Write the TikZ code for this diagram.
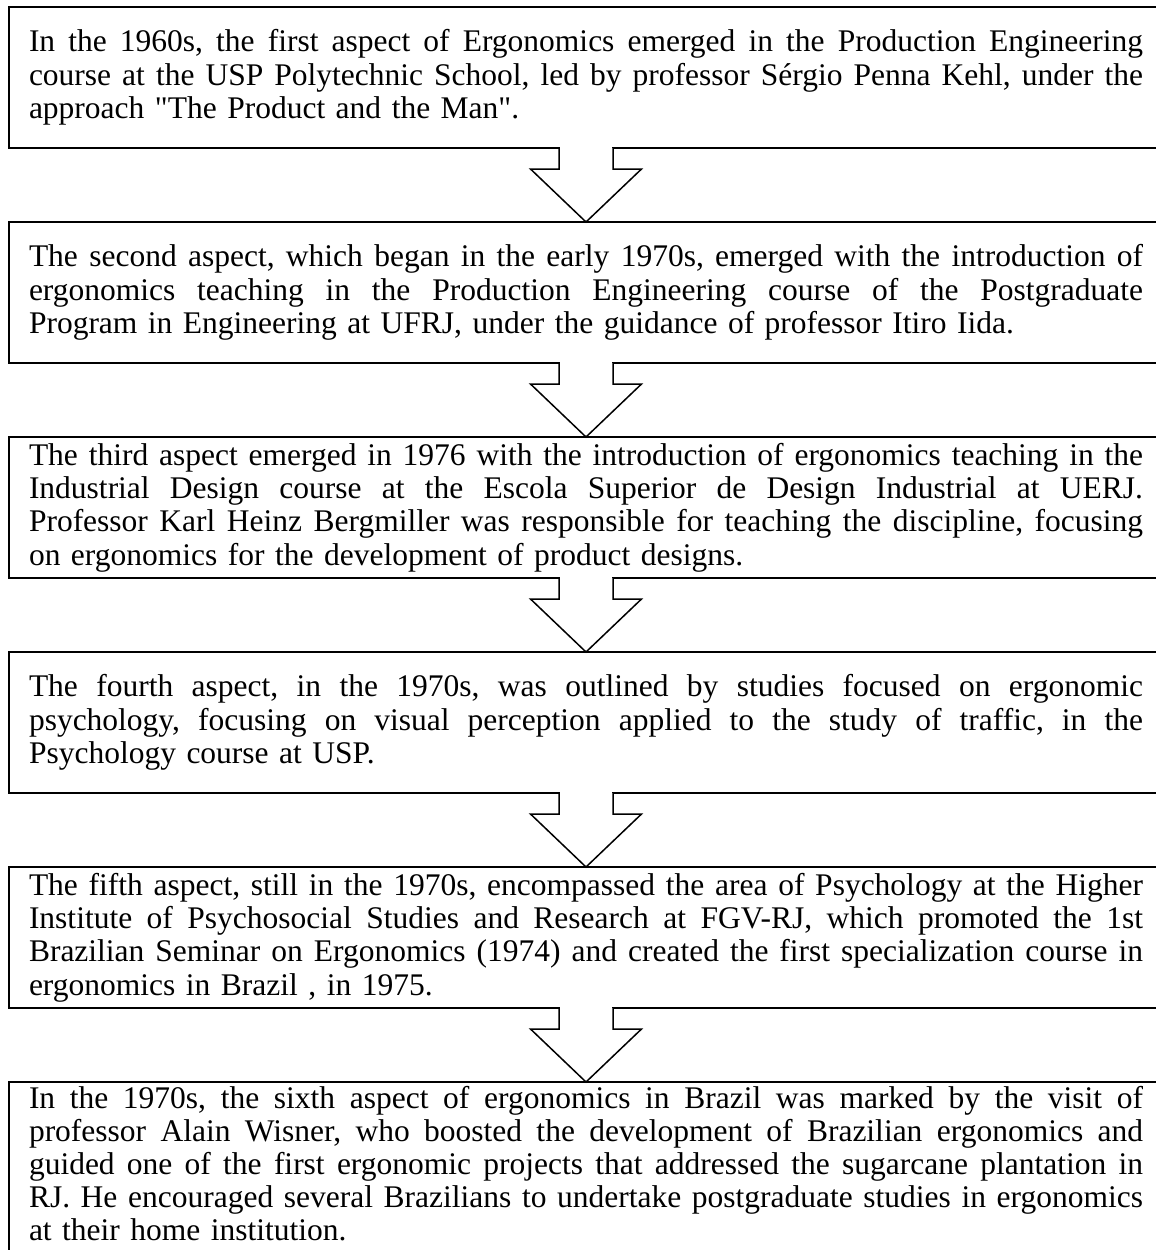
\documentclass[tikz,border=0pt]{standalone}
\usepackage{fontspec}
\newfontfamily\refserif{Liberation Serif}
\usetikzlibrary{calc}
\frenchspacing
\newlength\TW \setlength\TW{1114pt}
\newcommand\jl[1]{\hbox to\TW{\spaceskip=0.25em plus 1em minus 0.08em\relax #1}}
\newcommand\lastln[1]{\hbox{#1}}
\begin{document}
\begin{tikzpicture}[x=1pt,y=-1pt,
  boxline/.style={draw, line width=2.2pt},
  aspectbox/.style={boxline, anchor=north, text width=1114pt,
    inner xsep=20pt, inner ysep=0pt, minimum height=141pt, outer sep=0pt,
    font=\refserif\fontsize{31.5}{33.3}\selectfont},
  arrowline/.style={line width=1.5pt, fill=white, line join=miter}]
\useasboundingbox (0,0) rectangle (1156,1250);

\node[aspectbox] (b1) at (586,7) {%
\jl{In the 1960s, the first aspect of Ergonomics emerged in the Production Engineering}
\jl{course at the USP Polytechnic School, led by professor Sérgio Penna Kehl, under the}
\lastln{approach "The Product and the Man".}};

\node[aspectbox] (b2) at (586,222) {%
\jl{The second aspect, which began in the early 1970s, emerged with the introduction of}
\jl{ergonomics teaching in the Production Engineering course of the Postgraduate}
\lastln{Program in Engineering at UFRJ, under the guidance of professor Itiro Iida.}};

\node[aspectbox] (b3) at (586,437) {%
\jl{The third aspect emerged in 1976 with the introduction of ergonomics teaching in the}
\jl{Industrial Design course at the Escola Superior de Design Industrial at UERJ.}
\jl{Professor Karl Heinz Bergmiller was responsible for teaching the discipline, focusing}
\lastln{on ergonomics for the development of product designs.}};

\node[aspectbox] (b4) at (586,652) {%
\jl{The fourth aspect, in the 1970s, was outlined by studies focused on ergonomic}
\jl{psychology, focusing on visual perception applied to the study of traffic, in the}
\lastln{Psychology course at USP.}};

\node[aspectbox] (b5) at (586,867) {%
\jl{The fifth aspect, still in the 1970s, encompassed the area of Psychology at the Higher}
\jl{Institute of Psychosocial Studies and Research at FGV-RJ, which promoted the 1st}
\jl{Brazilian Seminar on Ergonomics (1974) and created the first specialization course in}
\lastln{ergonomics in Brazil , in 1975.}};

\node[aspectbox, draw=none, minimum height=0pt, inner ysep=4pt,
      font=\refserif\fontsize{31.5}{33}\selectfont] (b6) at (586,1082) {%
\jl{In the 1970s, the sixth aspect of ergonomics in Brazil was marked by the visit of}
\jl{professor Alain Wisner, who boosted the development of Brazilian ergonomics and}
\jl{guided one of the first ergonomic projects that addressed the sugarcane plantation in}
\jl{RJ. He encouraged several Brazilians to undertake postgraduate studies in ergonomics}
\lastln{at their home institution.}};
\draw[boxline] (b6.north west) rectangle ++(1154,220);

\foreach \i/\j in {b1/b2, b2/b3, b3/b4, b4/b5, b5/b6}{
  \fill[white] ($(\i.south)+(-26.2,-2)$) rectangle ($(\i.south)+(26.2,10)$);
  \draw[arrowline] ($(\i.south)+(-27,0)$) -- ++(0,21) -- ++(-28.5,0)
    -- (\j.north) -- ($(\i.south)+(55.5,21)$) -- ++(-28.5,0) -- ++(0,-21);
}
\end{tikzpicture}
\end{document}
